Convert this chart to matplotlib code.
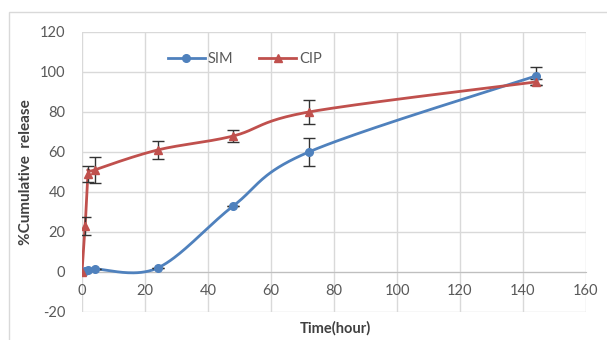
import numpy as np
import matplotlib
matplotlib.use("Agg")
from matplotlib import pyplot as plt
from matplotlib.patches import Rectangle

# data
time_h = [0, 1, 2, 4, 24, 48, 72, 144]
sim = [0, 0.5, 1, 1.5, 2, 33, 60, 98]
sim_err = [0, 0, 0, 0, 0, 0, 7, 4.5]
cip = [0, 23, 49, 51, 61, 68, 80, 95]
cip_err = [0, 4.5, 4, 6.5, 4.5, 3, 6, 1.5]

blue = '#4F81BD'
red = '#C0504D'
gray_txt = '#595959'
grid_c = '#D9D9D9'

plt.rcParams['font.family'] = ['Lato', 'DejaVu Sans']
plt.rcParams['axes.unicode_minus'] = False


def smooth(xs, ys, n=40):
    # excel-like smoothed line: cubic bezier through the points
    p = np.column_stack([xs, ys]).astype(float)
    out = []
    for i in range(len(p) - 1):
        p0 = p[i - 1] if i > 0 else p[i]
        p3 = p[i + 2] if i + 2 < len(p) else p[i + 1]
        c1 = p[i] + (p[i + 1] - p0) / 6
        c2 = p[i + 1] - (p3 - p[i]) / 6
        t = np.linspace(0, 1, n)[:, None]
        seg = ((1 - t) ** 3 * p[i] + 3 * (1 - t) ** 2 * t * c1
               + 3 * (1 - t) * t ** 2 * c2 + t ** 3 * p[i + 1])
        out.append(seg)
    out = np.vstack(out)
    return out[:, 0], out[:, 1]


fig = plt.figure(figsize=(6.07, 3.4), dpi=100)
ax = fig.add_axes([0.1351, 0.0824, 0.8303, 0.8235])

# chart frame (right and bottom edges are cut off in the original)
fig.patches.append(Rectangle((9 / 607, -0.1), 1.2, 1 - 12 / 340 + 0.1,
                             transform=fig.transFigure, fill=False,
                             edgecolor='#D9D9D9', lw=1))

sx, sy = smooth(time_h, sim)
cx, cy = smooth(time_h, cip)
ax.plot(sx, sy, color=blue, lw=2, zorder=3)
ax.plot(cx, cy, color=red, lw=2, zorder=3)
ax.errorbar(time_h, sim, yerr=sim_err, fmt='none', ecolor='#333333',
            elinewidth=1, capsize=4, capthick=1, zorder=4)
ax.errorbar(time_h, cip, yerr=cip_err, fmt='none', ecolor='#333333',
            elinewidth=1, capsize=4, capthick=1, zorder=4)
ax.plot(time_h, sim, 'o', color=blue, ms=5.5, zorder=5)
ax.plot(time_h, cip, '^', color=red, ms=5.5, zorder=5)

ax.plot([], [], '-o', color=blue, lw=2, ms=5.5, label='SIM')
ax.plot([], [], '-^', color=red, lw=2, ms=5.5, label='CIP')
ax.legend(loc='upper left', bbox_to_anchor=(0.145, 0.975), ncol=2,
          frameon=False, fontsize=10.5, handlelength=2.5, columnspacing=1.8,
          handletextpad=0.2, labelcolor=gray_txt)

ax.set_xlim(0, 160)
ax.set_ylim(-20, 120)
ax.set_xticks(range(0, 161, 20))
ax.set_yticks(range(-20, 121, 20))
ax.grid(True, color=grid_c, lw=1)
ax.set_axisbelow(True)
for s in ['top', 'right', 'left']:
    ax.spines[s].set_visible(False)
ax.spines['bottom'].set_position(('data', 0))
ax.spines['bottom'].set_color('#BFBFBF')
ax.tick_params(length=0, labelsize=10.5, colors=gray_txt)
ax.tick_params(axis='x', pad=9)
ax.tick_params(axis='y', pad=12)

ax.set_ylabel('%Cumulative  release', fontsize=11, fontweight='bold',
              color='#404040', labelpad=5)
fig.text(335 / 607, 1 - 328 / 340, 'Time(hour)', ha='center', va='center',
         fontsize=10.5, fontweight='bold', color='#404040')

fig.savefig('out.png', dpi=100)
